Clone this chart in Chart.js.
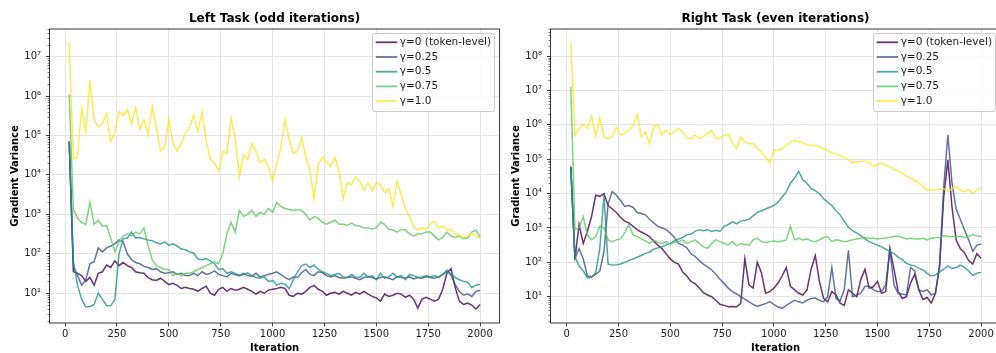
<!DOCTYPE html>
<html><head><meta charset="utf-8">
<script src="https://cdn.jsdelivr.net/npm/chart.js@4.4.1/dist/chart.umd.min.js"></script>
<style>
html{overflow:hidden;}
html,body{margin:0;padding:0;background:#fff;width:996px;height:353px;}
#wl{position:absolute;left:0;top:0;width:520px;height:353px;}
#wr{position:absolute;left:500px;top:0;width:520px;height:353px;}
</style></head><body>
<div id="wl"><canvas id="cl" width="520" height="353"></canvas></div>
<div id="wr"><canvas id="cr" width="520" height="353"></canvas></div>
<script>
// ---------------- DATA ----------------
const iterations = [20,40,60,80,100,120,140,160,180,200,220,240,260,280,300,320,340,360,380,400,
  420,440,460,480,500,520,540,560,580,600,620,640,660,680,700,720,740,760,780,800,
  820,840,860,880,900,920,940,960,980,1000,1020,1040,1060,1080,1100,1120,1140,1160,1180,1200,
  1220,1240,1260,1280,1300,1320,1340,1360,1380,1400,1420,1440,1460,1480,1500,1520,1540,1560,1580,1600,
  1620,1640,1660,1680,1700,1720,1740,1760,1780,1800,1820,1840,1860,1880,1900,1920,1940,1960,1980,2000];

const gammaLabels = ['γ=0 (token-level)', 'γ=0.25', 'γ=0.5', 'γ=0.75', 'γ=1.0'];
const xTickValues = [0, 250, 500, 750, 1000, 1250, 1500, 1750, 2000];
const panelTitles = ['Left Task (odd iterations)', 'Right Task (even iterations)'];
const xAxisTitle = 'Iteration';
const yAxisTitle = 'Gradient Variance';

// Left task
const leftGamma0 = [7e4,35,32,28,20,25,16,32,35,52,
  45,66,50,60,50,45,35,33,32,25,
  22,21,24,20,16.6,17.8,15.8,13.2,14.1,13.2,
  12.6,11.2,13.2,15.1,10,8.9,12.6,14.1,11.2,13.2,
  12,12.6,14.1,12.6,11.2,9.5,11.2,10,12,12.6,
  13.2,14.1,13.2,8.9,8.3,10,9.5,11.2,14.1,15.8,
  12.6,11.2,8.9,10,10.5,9.5,11.2,10,8.9,10.5,
  9.5,11.2,9.5,8.3,7.6,6.3,9.5,8.3,8.9,10,
  9.5,7.9,8.9,7.1,4.2,7.1,7.9,7.1,6.3,7.1,
  12.6,32,42,14.1,6.3,5.2,5.6,5,4,5.2];
const leftGamma025 = [7e4,50,28,16,22,56,63,141,112,141,
  158,178,224,200,100,71,60,56,48,45,
  40,42,35,32,33,35,30,32,28,28,
  32,28,35,30,32,37,30,28,26,32,
  29.5,28,32,28,27,32,26,28,30,32,
  35,29.5,25,22,26,25,33,40,30,28,
  35,33,28,26,28,25,24,25,26,24,
  22,25,26,25,23,25,26,24,22,26,
  25,24,26,23,25,24,26,25,24,26,
  30,38,28,16.6,11.2,8.9,9.5,8.3,11.2,11.7];
const leftGamma05 = [7e4,63,16,7,4.5,4.6,5.2,10,7,4.9,
  4.8,7,100,240,250,355,250,260,240,225,
  215,190,178,200,166,178,158,132,126,112,
  105,74,71,76,66,56,40,42,32,35,
  32,28,30,33,28,25,24,26,20,21,
  16,18,17,13,22,35,50,55,45,52,
  40,35,32,28,30,32,26,25,30,26,
  25,32,26,28,22,32,24,26,32,26,
  28,22,30,28,25,26,28,26,28,25,
  30,35,32,25,22,20,19,14,16,17];
const leftGamma075 = [1.1e6,1350,790,630,560,2000,560,710,500,520,
  250,112,200,280,320,280,355,320,450,160,
  71,50,45,40,40,28,32,28,32,32,
  35,40,45,50,56,63,56,100,320,630,
  355,1260,890,1000,1260,890,1120,1000,1410,1120,
  2000,1580,1410,1320,1260,1320,1260,1000,710,890,
  790,630,560,630,710,560,560,525,600,525,
  500,450,460,420,460,630,560,420,400,355,
  420,400,320,280,320,320,355,355,280,225,
  260,355,280,260,280,240,250,355,400,260];
const leftGamma1 = [2.3e7,2.5e4,2.8e4,5e5,1.2e5,2.5e6,2.5e5,1.6e5,2e5,3.6e5,
  7e4,1.26e5,4e5,3.2e5,4.5e5,2e5,5e5,1.4e5,2.5e5,1e5,
  5.6e5,1.6e5,4e4,5e4,2.5e5,6.3e4,4e4,6.3e4,1.15e5,1.6e5,
  3.2e5,1.26e5,4e5,7e4,2.5e4,2e4,1.26e4,4e4,3.5e4,2.8e5,
  8e4,8.9e3,3.2e4,2.5e4,6.3e4,4e4,2e4,2.5e4,1.6e4,7e3,
  2e4,5e4,2.5e5,8e4,3.5e4,4e4,9e4,2.8e4,1.26e4,2.5e3,
  1.8e4,2.8e4,2.2e4,1.6e4,2.8e4,1.26e4,2.5e3,6.3e3,5.6e3,8.9e3,
  7e3,4e3,6.3e3,4e3,6.3e3,5.6e3,3.5e3,4.5e3,1.6e3,7e3,
  3.2e3,1.4e3,890,500,400,450,420,560,660,450,
  500,400,420,320,300,260,290,330,280,245];

// Right task
const rightGamma0 = [6e4,126,1260,355,794,2140,8900,8300,1e4,4470,
  3550,2820,2000,1580,1410,1120,890,760,660,560,
  417,316,251,178,126,100,89,52,40,28,
  24,17.8,13.2,11.2,10,7.9,6,5.6,5.1,5.2,
  5.1,6.3,126,22,17.8,100,50,12.6,14.1,17.8,
  25,40,71,20,15.8,12.6,11.2,15.8,63,158,
  28,8.9,7.1,14.1,11.2,6.5,5.6,15.8,12.6,10,
  32,63,17.8,19.5,28,12.6,14.1,251,63,14.1,
  8.9,10,25,45,15.8,8.3,9.5,6.6,12.6,79,
  7900,9.5e4,4000,447,251,190,112,89,178,132];
const rightGamma025 = [6e4,126,251,126,40,38,45,56,200,5000,
  1.15e4,8900,6300,4200,4500,4000,2800,2630,2400,1780,
  1410,1120,1000,890,710,525,355,316,263,178,
  148,112,89,74,60,45,32,24,17.8,14.1,
  12,10,8.5,7.1,6,5.2,5.75,6.3,7.2,6,
  5,4.6,5.6,6.6,7.9,7.1,6.6,7.9,8.9,9.1,
  7.9,7.1,10,71,8.9,7.6,16,224,10,11.2,
  12.6,20,20,16,14.1,14.1,22,229,22,12.6,
  12,11.2,71,56,16,14.1,16,11.2,12.6,79,
  1.6e4,5e5,2e4,3550,1780,890,450,209,316,339];
const rightGamma05 = [6e4,148,79,56,35,36,50,251,8900,89,
  83,85,89,100,112,126,141,158,182,200,
  240,263,282,316,355,417,479,525,631,661,
  794,891,832,891,794,851,794,1120,1260,1510,
  1320,1580,1660,1780,2240,2820,3160,3550,3980,4470,
  5620,7940,1.12e4,2e4,2.8e4,4.4e4,2.5e4,2e4,1.4e4,1.2e4,
  1e4,7080,5620,4470,3160,2400,1580,1050,830,710,
  600,480,400,355,316,282,240,209,178,141,
  120,95,83,79,68,60,48,40,43,52,
  63,79,66,71,83,71,56,42,48,51];
const rightGamma075 = [1.26e7,890,1000,2140,630,450,560,1120,1000,450,
  400,450,480,710,1230,630,560,480,420,355,
  450,380,355,400,330,380,400,450,355,400,
  450,355,280,257,355,450,400,355,316,400,
  300,355,330,316,450,500,400,380,400,420,
  400,420,450,1120,450,500,450,480,420,400,
  450,525,560,400,450,430,400,420,450,480,
  500,525,500,500,480,500,500,540,560,575,
  525,480,500,480,480,500,450,500,525,525,
  600,560,560,550,575,525,560,630,590,560];
const rightGamma1 = [2.5e8,5e5,7.9e5,1e6,7.9e5,1.8e6,4.5e5,1.6e6,4.5e5,4e5,
  4.5e5,8.5e5,5e5,5.6e5,7e5,8.9e5,2e6,4.5e5,6.3e5,2.8e5,
  8.9e5,1e6,5e5,7e5,5.2e5,6.3e5,7.9e5,6.3e5,4e5,4e5,
  5e5,4e5,4.5e5,5.6e5,7e5,4e5,4e5,5e5,5.2e5,3.2e5,
  2e5,4.5e5,3.2e5,2.8e5,2.8e5,2e5,1.6e5,1.12e5,7.9e4,1.86e5,
  1.8e5,2e5,2.5e5,3.2e5,3.5e5,3.2e5,3e5,2.6e5,2.5e5,2.5e5,
  2.3e5,2e5,1.8e5,1.5e5,1.4e5,1.3e5,1.12e5,9.5e4,7.9e4,8.3e4,
  8.5e4,8.9e4,7.9e4,6e4,7e4,7.6e4,6.8e4,6e4,5e4,4.6e4,
  4e4,3.2e4,2.8e4,2.4e4,2e4,1.66e4,1.26e4,1.3e4,1.26e4,1.3e4,
  1.4e4,1.12e4,1.4e4,1.58e4,1.3e4,1.12e4,1.3e4,1e4,1.26e4,1.5e4];

// ---------------- STYLE ----------------
const seriesColors = ['rgba(68,1,84,0.8)','rgba(59,82,139,0.8)','rgba(33,145,140,0.8)','rgba(94,201,98,0.8)','rgba(253,231,37,0.8)'];
Chart.defaults.font.family = '"DejaVu Sans", "Liberation Sans", sans-serif';
const SUP = {'0':'⁰','1':'¹','2':'²','3':'³','4':'⁴','5':'⁵','6':'⁶','7':'⁷','8':'⁸','9':'⁹','-':'⁻'};
const sup = n => String(n).split('').map(c => SUP[c]).join('');

const framePlugin = {
  id: 'frameAndLegend',
  afterDraw(chart) {
    const {ctx, chartArea: a} = chart;
    const y = chart.scales.y;
    ctx.save();
    // minor log ticks
    ctx.strokeStyle = '#222'; ctx.lineWidth = 0.6;
    ctx.beginPath();
    const lo = Math.floor(Math.log10(y.min)), hi = Math.ceil(Math.log10(y.max));
    for (let e = lo; e <= hi; e++) {
      for (let m = 2; m <= 9; m++) {
        const v = m * Math.pow(10, e);
        if (v < y.min || v > y.max) continue;
        const p = Math.round(y.getPixelForValue(v)) + 0.5;
        ctx.moveTo(a.left - 2, p); ctx.lineTo(a.left, p);
      }
    }
    ctx.stroke();
    // spines
    ctx.strokeStyle = '#222'; ctx.lineWidth = 0.9;
    ctx.strokeRect(a.left, a.top, a.right - a.left, a.bottom - a.top);
    // legend
    const ds = chart.data.datasets;
    ctx.font = '10.5px "DejaVu Sans"';
    const tw = Math.max(...ds.map(d => ctx.measureText(d.label).width));
    const w = 27.5 + tw + 3.5, h = 77.5;
    const lx = a.right - 5 - w, ly = a.top + 4;
    ctx.beginPath();
    ctx.roundRect(Math.round(lx) + 0.5, Math.round(ly) + 0.5, Math.round(w), Math.round(h), 2.5);
    ctx.fillStyle = 'rgba(255,255,255,0.8)'; ctx.fill();
    ctx.strokeStyle = '#cccccc'; ctx.lineWidth = 1; ctx.stroke();
    ds.forEach((d, i) => {
      const cy = ly + 9.3 + i * 14.7;
      ctx.strokeStyle = d.borderColor; ctx.lineWidth = 1.8;
      ctx.beginPath(); ctx.moveTo(lx + 3.5, cy); ctx.lineTo(lx + 25, cy); ctx.stroke();
      ctx.fillStyle = '#1a1a1a'; ctx.textBaseline = 'middle'; ctx.textAlign = 'left';
      ctx.fillText(d.label, lx + 27.5, cy);
    });
    ctx.restore();
  }
};

function makeChart(canvasId, series, cfg) {
  const datasets = series.map((vals, i) => ({
    label: gammaLabels[i],
    data: iterations.map((it, k) => ({x: it, y: vals[k]})),
    borderColor: seriesColors[i],
    backgroundColor: seriesColors[i],
    borderWidth: 1.5,
    pointRadius: 0,
    tension: 0,
    fill: false,
    order: series.length - 1 - i
  }));
  const grid = {color: '#e4e4e4', lineWidth: 1, tickColor: '#222', tickLength: 3.5, tickWidth: 0.9};
  return new Chart(document.getElementById(canvasId), {
    type: 'line',
    data: {datasets},
    options: {
      responsive: false, animation: false, devicePixelRatio: 1,
      layout: {padding: {left: 0, right: cfg.rightPad, top: 0, bottom: 0}},
      plugins: {
        legend: {display: false}, tooltip: {enabled: false},
        title: {display: true, text: cfg.title, fullSize: false, color: '#000',
                font: {size: 12, weight: 'bold'}, padding: {top: 11.5, bottom: 3.1}}
      },
      scales: {
        x: {
          type: 'linear', min: cfg.xMin, max: cfg.xMax,
          afterBuildTicks: s => { s.ticks = xTickValues.map(v => ({value: v})); },
          afterFit: s => { s.height = 30; },
          ticks: {callback: v => String(v), color: '#1a1a1a', font: {size: 10}, padding: 2, autoSkip: false, maxRotation: 0},
          grid: grid, border: {display: false},
          title: {display: true, text: xAxisTitle, color: '#000', font: {size: 10, weight: 'bold', lineHeight: 1}, padding: {top: 0, bottom: 0}}
        },
        y: {
          type: 'logarithmic', min: cfg.yMin, max: cfg.yMax,
          afterBuildTicks: s => {
            const t = [];
            for (let e = Math.ceil(Math.log10(s.min)); Math.pow(10, e) <= s.max; e++) t.push({value: Math.pow(10, e), major: true});
            s.ticks = t;
          },
          afterFit: s => { s.width = cfg.yWidth; },
          ticks: {callback: v => '10' + sup(Math.round(Math.log10(v))), color: '#1a1a1a', font: {size: 10}, padding: 5, autoSkip: false},
          grid: grid, border: {display: false},
          title: {display: true, text: yAxisTitle, color: '#000', font: {size: 10, weight: 'bold'}, padding: {top: cfg.yTitlePad, bottom: 0}}
        }
      }
    },
    plugins: [framePlugin]
  });
}

makeChart('cl', [leftGamma0, leftGamma025, leftGamma05, leftGamma075, leftGamma1],
  {title: panelTitles[0], xMin: -75, xMax: 2094, yMin: 1.76, yMax: 5.0e7, yWidth: 49.5, yTitlePad: 9, rightPad: 20.4});
makeChart('cr', [rightGamma0, rightGamma025, rightGamma05, rightGamma075, rightGamma1],
  {title: panelTitles[1], xMin: -78, xMax: 2094, yMin: 1.72, yMax: 6.1e8, yWidth: 50.5, yTitlePad: 10, rightPad: 19.5});
</script></body></html>
